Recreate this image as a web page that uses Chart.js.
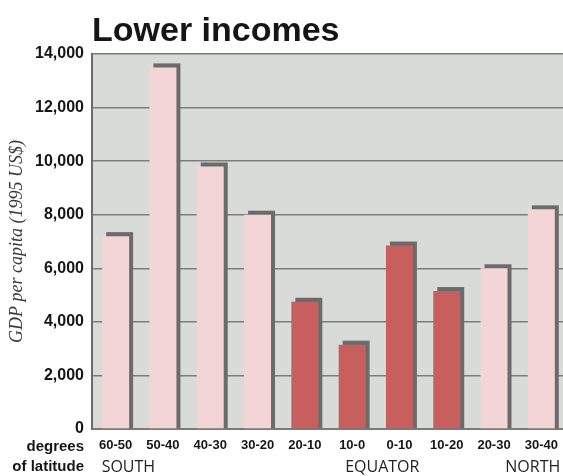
<!DOCTYPE html>
<html>
<head>
<meta charset="utf-8">
<script src="https://cdn.jsdelivr.net/npm/chart.js@4.4.1/dist/chart.umd.min.js"></script>
<style>
  html, body { margin: 0; padding: 0; background: #ffffff; overflow: hidden; }
  #wrap { position: relative; width: 567px; height: 476px; }
</style>
</head>
<body>
<div id="wrap"><canvas id="c" width="567" height="476"></canvas></div>
<script>
// ---- data ----
const categories = ['60-50', '50-40', '40-30', '30-20', '20-10', '10-0', '0-10', '10-20', '20-30', '30-40'];
const gdpPerCapita = [7200, 13500, 9800, 8000, 4750, 3150, 6850, 5150, 6000, 8200];
const zones = ['temperate', 'temperate', 'temperate', 'temperate', 'tropical', 'tropical', 'tropical', 'tropical', 'temperate', 'temperate'];
const yTicks = [0, 2000, 4000, 6000, 8000, 10000, 12000, 14000];
const regionLabels = ['SOUTH', 'EQUATOR', 'NORTH'];
const regionCategory = ['60-50', '10-0', '30-40'];

const zoneColors = { temperate: '#f4d5d5', tropical: '#c75f5d' };

const plotBg = {
  id: 'plotBg',
  beforeDraw(chart) {
    const { ctx, chartArea: a } = chart;
    ctx.save();
    ctx.fillStyle = '#d9dbd8';
    ctx.fillRect(a.left, a.top, a.right - a.left, a.bottom - a.top);
    ctx.restore();
  }
};

const barShadow = {
  id: 'barShadow',
  beforeDatasetsDraw(chart) {
    const { ctx } = chart;
    const meta = chart.getDatasetMeta(0);
    ctx.save();
    ctx.fillStyle = '#6b6b6b';
    meta.data.forEach(b => {
      const w = b.width;
      ctx.fillRect(b.x - w / 2 + 4, b.y - 4, w, b.base - b.y + 4);
    });
    ctx.restore();
  }
};

const texts = {
  id: 'texts',
  afterDraw(chart) {
    const { ctx, chartArea: a, scales } = chart;
    ctx.save();
    ctx.fillStyle = '#151515';
    ctx.textBaseline = 'alphabetic';
    ctx.textAlign = 'left';
    ctx.font = 'bold 34px "Liberation Sans", Arial, sans-serif';
    ctx.fillText('Lower incomes', a.left, 41);

    ctx.textAlign = 'right';
    ctx.font = 'bold 15px "Liberation Sans Narrow", "Liberation Sans", Arial, sans-serif';
    ctx.fillText('degrees', 84, 451);
    ctx.fillText('of latitude', 84, 471);

    ctx.font = '16px "Open Sans", "DejaVu Sans", sans-serif';
    ctx.fillStyle = '#222';
    const offsets = [-14, -7, -36];
    regionLabels.forEach((t, i) => {
      const idx = categories.indexOf(regionCategory[i]);
      const x = scales.x.getPixelForValue(idx);
      ctx.textAlign = 'left';
      ctx.fillText(t, x + offsets[i], 472);
    });
    ctx.restore();
  }
};

new Chart(document.getElementById('c'), {
  type: 'bar',
  data: {
    labels: categories,
    datasets: [{
      data: gdpPerCapita,
      backgroundColor: zones.map(z => zoneColors[z]),
      borderWidth: 0,
      barPercentage: 0.57,
      categoryPercentage: 1.0
    }]
  },
  options: {
    responsive: false,
    animation: false,
    devicePixelRatio: 1,
    layout: { padding: { top: 54, right: 1, bottom: 0, left: 0 } },
    plugins: { legend: { display: false }, tooltip: { enabled: false }, title: { display: false } },
    scales: {
      x: {
        grid: { display: false, drawTicks: false },
        border: { display: true, color: '#7a7a7a', width: 2 },
        ticks: {
          color: '#151515',
          padding: 9,
          maxRotation: 0,
          autoSkip: false,
          font: { family: '"Liberation Sans Narrow", "Liberation Sans", Arial, sans-serif', size: 13, weight: 'bold' }
        },
        afterFit(s) { s.height = 47; }
      },
      y: {
        min: 0,
        max: 14000,
        afterBuildTicks(s) { s.ticks = yTicks.map(v => ({ value: v })); },
        grid: { color: '#7c7c7c', lineWidth: 1.5, drawTicks: false },
        border: { display: true, color: '#6a6a6a', width: 2 },
        ticks: {
          color: '#151515',
          padding: 8,
          font: { family: '"Liberation Sans", Arial, sans-serif', size: 16, weight: 'bold' },
          callback: v => v.toLocaleString('en-US')
        },
        title: {
          display: true,
          text: 'GDP per capita (1995 US$)',
          color: '#3a3a3a',
          padding: { top: 6, bottom: 0 },
          font: { family: '"Liberation Serif", "Times New Roman", serif', size: 18, style: 'italic' }
        },
        afterFit(s) { s.width = 92; }
      }
    }
  },
  plugins: [plotBg, barShadow, texts]
});
</script>
</body>
</html>
